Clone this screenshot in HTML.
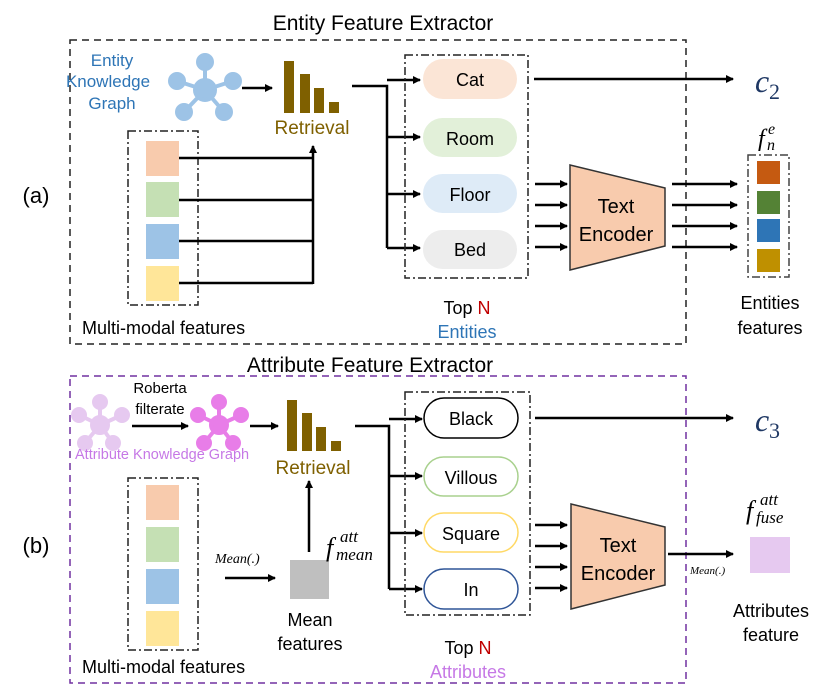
<!DOCTYPE html>
<html><head><meta charset="utf-8"><style>
html,body{margin:0;padding:0;background:#fff;}
svg{display:block;font-family:"Liberation Sans",sans-serif;}
</style></head><body>
<svg width="830" height="694" viewBox="0 0 830 694" xmlns="http://www.w3.org/2000/svg">
<defs>
<marker id="ah" markerWidth="8" markerHeight="8" refX="7" refY="4" orient="auto" markerUnits="userSpaceOnUse">
<path d="M0,0 L8,4 L0,8 z" fill="#000"/></marker>
</defs>
<!-- ===== TOP ===== -->
<text x="383" y="30" font-size="21" text-anchor="middle">Entity Feature Extractor</text>
<rect x="70" y="40" width="616" height="304" fill="none" stroke="#222" stroke-width="1.5" stroke-dasharray="7,5"/>
<text x="36" y="203" font-size="22" text-anchor="middle">(a)</text>
<text font-size="17" fill="#2e75b6" text-anchor="middle"><tspan x="112" y="66">Entity</tspan><tspan x="108" y="87">Knowledge</tspan><tspan x="112" y="109">Graph</tspan></text>
<g stroke="#9dc3e6" stroke-width="4" fill="#9dc3e6">
<line x1="205" y1="90" x2="205" y2="62"/><line x1="205" y1="90" x2="233" y2="81"/><line x1="205" y1="90" x2="224" y2="112"/><line x1="205" y1="90" x2="184" y2="112"/><line x1="205" y1="90" x2="177" y2="81"/>
<circle cx="205" cy="90" r="10"/><circle cx="205" cy="62" r="7"/><circle cx="233" cy="81" r="7"/><circle cx="224" cy="112" r="7"/><circle cx="184" cy="112" r="7"/><circle cx="177" cy="81" r="7"/>
</g>
<line x1="242" y1="88" x2="272" y2="88" stroke="#000" stroke-width="2.5" marker-end="url(#ah)"/>
<g fill="#7f6000"><rect x="284" y="61" width="10" height="52"/><rect x="300" y="74" width="10" height="39"/><rect x="314" y="88" width="10" height="25"/><rect x="329" y="102" width="10" height="11"/></g>
<text x="312" y="134" font-size="19" fill="#7f6000" text-anchor="middle">Retrieval</text>
<rect x="128" y="131" width="70" height="174" fill="none" stroke="#222" stroke-width="1.5" stroke-dasharray="8,3,2,3"/>
<rect x="146" y="141" width="33" height="35" fill="#f8cbad"/><rect x="146" y="182" width="33" height="35" fill="#c5e0b4"/><rect x="146" y="224" width="33" height="35" fill="#9dc3e6"/><rect x="146" y="266" width="33" height="35" fill="#ffe699"/>
<g stroke="#000" stroke-width="2.5" fill="none">
<line x1="179" y1="158" x2="313" y2="158"/><line x1="179" y1="200" x2="313" y2="200"/><line x1="179" y1="241" x2="313" y2="241"/><line x1="179" y1="283" x2="313" y2="283"/>
<line x1="313" y1="284" x2="313" y2="146" marker-end="url(#ah)"/>
<polyline points="352,86 387,86 387,248"/>
<line x1="387" y1="80" x2="420" y2="80" marker-end="url(#ah)"/><line x1="387" y1="137" x2="420" y2="137" marker-end="url(#ah)"/><line x1="387" y1="194" x2="420" y2="194" marker-end="url(#ah)"/><line x1="387" y1="248" x2="420" y2="248" marker-end="url(#ah)"/>
<line x1="534" y1="79" x2="733" y2="79" marker-end="url(#ah)"/>
<line x1="535" y1="184" x2="567" y2="184" marker-end="url(#ah)"/><line x1="535" y1="205" x2="567" y2="205" marker-end="url(#ah)"/><line x1="535" y1="226" x2="567" y2="226" marker-end="url(#ah)"/><line x1="535" y1="247" x2="567" y2="247" marker-end="url(#ah)"/>
<line x1="672" y1="184" x2="737" y2="184" marker-end="url(#ah)"/><line x1="672" y1="205" x2="737" y2="205" marker-end="url(#ah)"/><line x1="672" y1="226" x2="737" y2="226" marker-end="url(#ah)"/><line x1="672" y1="247" x2="737" y2="247" marker-end="url(#ah)"/>
</g>
<rect x="405" y="55" width="123" height="223" fill="none" stroke="#222" stroke-width="1.5" stroke-dasharray="8,3,2,3"/>
<rect x="423" y="59" width="94" height="40" rx="20" fill="#fbe5d6"/><text x="470" y="86" font-size="18" text-anchor="middle">Cat</text>
<rect x="423" y="118" width="94" height="39" rx="19.5" fill="#e2f0d9"/><text x="470" y="145" font-size="18" text-anchor="middle">Room</text>
<rect x="423" y="174" width="94" height="39" rx="19.5" fill="#deebf7"/><text x="470" y="201" font-size="18" text-anchor="middle">Floor</text>
<rect x="423" y="230" width="94" height="39" rx="19.5" fill="#ededed"/><text x="470" y="256" font-size="18" text-anchor="middle">Bed</text>
<text x="755" y="92" font-size="32" font-style="italic" font-family="Liberation Serif,serif" fill="#1f3864">c</text>
<text x="769" y="99" font-size="22" font-family="Liberation Serif,serif" fill="#1f3864">2</text>
<polygon points="570,165 665,188 665,246 570,270" fill="#f8cbad" stroke="#333" stroke-width="1.5"/>
<text x="616" y="213" font-size="20" text-anchor="middle">Text</text><text x="616" y="241" font-size="20" text-anchor="middle">Encoder</text>
<rect x="748" y="155" width="41" height="122" fill="none" stroke="#444" stroke-width="1.5" stroke-dasharray="8,3,2,3"/>
<rect x="757" y="161" width="23" height="23" fill="#c55a11"/><rect x="757" y="191" width="23" height="23" fill="#548235"/><rect x="757" y="219" width="23" height="23" fill="#2e75b6"/><rect x="757" y="249" width="23" height="23" fill="#bf9000"/>
<g font-style="italic" font-family="Liberation Serif,serif">
<text x="758" y="146" font-size="24">f</text>
<text x="767" y="150" font-size="16">n</text>
<text x="768" y="134" font-size="16">e</text>
</g>
<text x="770" y="309" font-size="18" text-anchor="middle">Entities</text><text x="770" y="334" font-size="18" text-anchor="middle">features</text>
<text x="467" y="314" font-size="18" text-anchor="middle">Top <tspan fill="#c00000">N</tspan></text>
<text x="467" y="338" font-size="18" text-anchor="middle" fill="#2e75b6">Entities</text>
<text x="82" y="334" font-size="18">Multi-modal features</text>

<!-- ===== BOTTOM ===== -->
<text x="370" y="372" font-size="21" text-anchor="middle">Attribute Feature Extractor</text>
<rect x="70" y="376" width="616" height="307" fill="none" stroke="#7030a0" stroke-width="1.5" stroke-dasharray="7,5"/>
<text x="36" y="553" font-size="22" text-anchor="middle">(b)</text>
<g stroke="#e6c9f0" stroke-width="4" fill="#e6c9f0">
<line x1="100" y1="425" x2="100" y2="402"/><line x1="100" y1="425" x2="122" y2="415"/><line x1="100" y1="425" x2="113" y2="443"/><line x1="100" y1="425" x2="85" y2="443"/><line x1="100" y1="425" x2="79" y2="415"/>
<circle cx="100" cy="425" r="8"/><circle cx="100" cy="402" r="6"/><circle cx="122" cy="415" r="6"/><circle cx="113" cy="443" r="6"/><circle cx="85" cy="443" r="6"/><circle cx="79" cy="415" r="6"/>
</g>
<g stroke="#e87de8" stroke-width="4" fill="#e87de8">
<line x1="219" y1="425" x2="219" y2="402"/><line x1="219" y1="425" x2="241" y2="415"/><line x1="219" y1="425" x2="233" y2="443"/><line x1="219" y1="425" x2="204" y2="443"/><line x1="219" y1="425" x2="198" y2="415"/>
<circle cx="219" cy="425" r="8"/><circle cx="219" cy="402" r="6"/><circle cx="241" cy="415" r="6"/><circle cx="233" cy="443" r="6"/><circle cx="204" cy="443" r="6"/><circle cx="198" cy="415" r="6"/>
</g>
<text x="160" y="393" font-size="15" text-anchor="middle">Roberta</text><text x="160" y="414" font-size="15" text-anchor="middle">filterate</text>
<text x="75" y="459" font-size="14.5" fill="#c678e6">Attribute Knowledge Graph</text>
<g fill="#7f6000"><rect x="287" y="400" width="10" height="51"/><rect x="302" y="413" width="10" height="38"/><rect x="316" y="427" width="10" height="24"/><rect x="331" y="441" width="10" height="10"/></g>
<text x="313" y="474" font-size="19" fill="#7f6000" text-anchor="middle">Retrieval</text>
<rect x="128" y="478" width="70" height="172" fill="none" stroke="#222" stroke-width="1.5" stroke-dasharray="8,3,2,3"/>
<rect x="146" y="485" width="33" height="35" fill="#f8cbad"/><rect x="146" y="527" width="33" height="35" fill="#c5e0b4"/><rect x="146" y="569" width="33" height="35" fill="#9dc3e6"/><rect x="146" y="611" width="33" height="35" fill="#ffe699"/>
<text x="215" y="563" font-size="14" font-style="italic" font-family="Liberation Serif,serif">Mean(.)</text>
<rect x="290" y="560" width="39" height="39" fill="#bfbfbf"/>
<text x="310" y="626" font-size="18" text-anchor="middle">Mean</text><text x="310" y="650" font-size="18" text-anchor="middle">features</text>
<g font-style="italic" font-family="Liberation Serif,serif">
<text x="326" y="556" font-size="26">f</text>
<text x="336" y="560" font-size="17">mean</text>
<text x="340" y="542" font-size="17">att</text>
</g>
<g stroke="#000" stroke-width="2.5" fill="none">
<line x1="132" y1="426" x2="188" y2="426" marker-end="url(#ah)"/>
<line x1="250" y1="426" x2="278" y2="426" marker-end="url(#ah)"/>
<line x1="225" y1="578" x2="275" y2="578" marker-end="url(#ah)"/>
<line x1="309" y1="552" x2="309" y2="481" marker-end="url(#ah)"/>
<polyline points="355,426 389,426 389,589"/>
<line x1="389" y1="419" x2="422" y2="419" marker-end="url(#ah)"/><line x1="389" y1="476" x2="422" y2="476" marker-end="url(#ah)"/><line x1="389" y1="533" x2="422" y2="533" marker-end="url(#ah)"/><line x1="389" y1="589" x2="422" y2="589" marker-end="url(#ah)"/>
<line x1="535" y1="418" x2="733" y2="418" marker-end="url(#ah)"/>
<line x1="535" y1="525" x2="567" y2="525" marker-end="url(#ah)"/><line x1="535" y1="546" x2="567" y2="546" marker-end="url(#ah)"/><line x1="535" y1="567" x2="567" y2="567" marker-end="url(#ah)"/><line x1="535" y1="588" x2="567" y2="588" marker-end="url(#ah)"/>
<line x1="668" y1="554" x2="733" y2="554" marker-end="url(#ah)"/>
</g>
<rect x="405" y="392" width="125" height="223" fill="none" stroke="#222" stroke-width="1.5" stroke-dasharray="8,3,2,3"/>
<rect x="424" y="398" width="94" height="40" rx="20" fill="#fff" stroke="#000" stroke-width="1.5"/><text x="471" y="425" font-size="18" text-anchor="middle">Black</text>
<rect x="424" y="457" width="94" height="39" rx="19.5" fill="#fff" stroke="#a9d18e" stroke-width="1.5"/><text x="471" y="484" font-size="18" text-anchor="middle">Villous</text>
<rect x="424" y="513" width="94" height="39" rx="19.5" fill="#fff" stroke="#ffd966" stroke-width="1.5"/><text x="471" y="540" font-size="18" text-anchor="middle">Square</text>
<rect x="424" y="569" width="94" height="40" rx="20" fill="#fff" stroke="#2f5597" stroke-width="1.5"/><text x="471" y="596" font-size="18" text-anchor="middle">In</text>
<text x="755" y="431" font-size="32" font-style="italic" font-family="Liberation Serif,serif" fill="#1f3864">c</text>
<text x="769" y="438" font-size="22" font-family="Liberation Serif,serif" fill="#1f3864">3</text>
<polygon points="571,504 665,527 665,585 571,609" fill="#f8cbad" stroke="#333" stroke-width="1.5"/>
<text x="618" y="552" font-size="20" text-anchor="middle">Text</text><text x="618" y="580" font-size="20" text-anchor="middle">Encoder</text>
<text x="690" y="574" font-size="11" font-style="italic" font-family="Liberation Serif,serif">Mean(.)</text>
<rect x="750" y="537" width="40" height="36" fill="#e6c9f0"/>
<g font-style="italic" font-family="Liberation Serif,serif">
<text x="746" y="519" font-size="26">f</text>
<text x="756" y="523" font-size="17">fuse</text>
<text x="760" y="505" font-size="17">att</text>
</g>
<text x="771" y="617" font-size="18" text-anchor="middle">Attributes</text><text x="771" y="641" font-size="18" text-anchor="middle">feature</text>
<text x="468" y="654" font-size="18" text-anchor="middle">Top <tspan fill="#c00000">N</tspan></text>
<text x="468" y="678" font-size="18" text-anchor="middle" fill="#c678e6">Attributes</text>
<text x="82" y="673" font-size="18">Multi-modal features</text>
</svg>
</body></html>
